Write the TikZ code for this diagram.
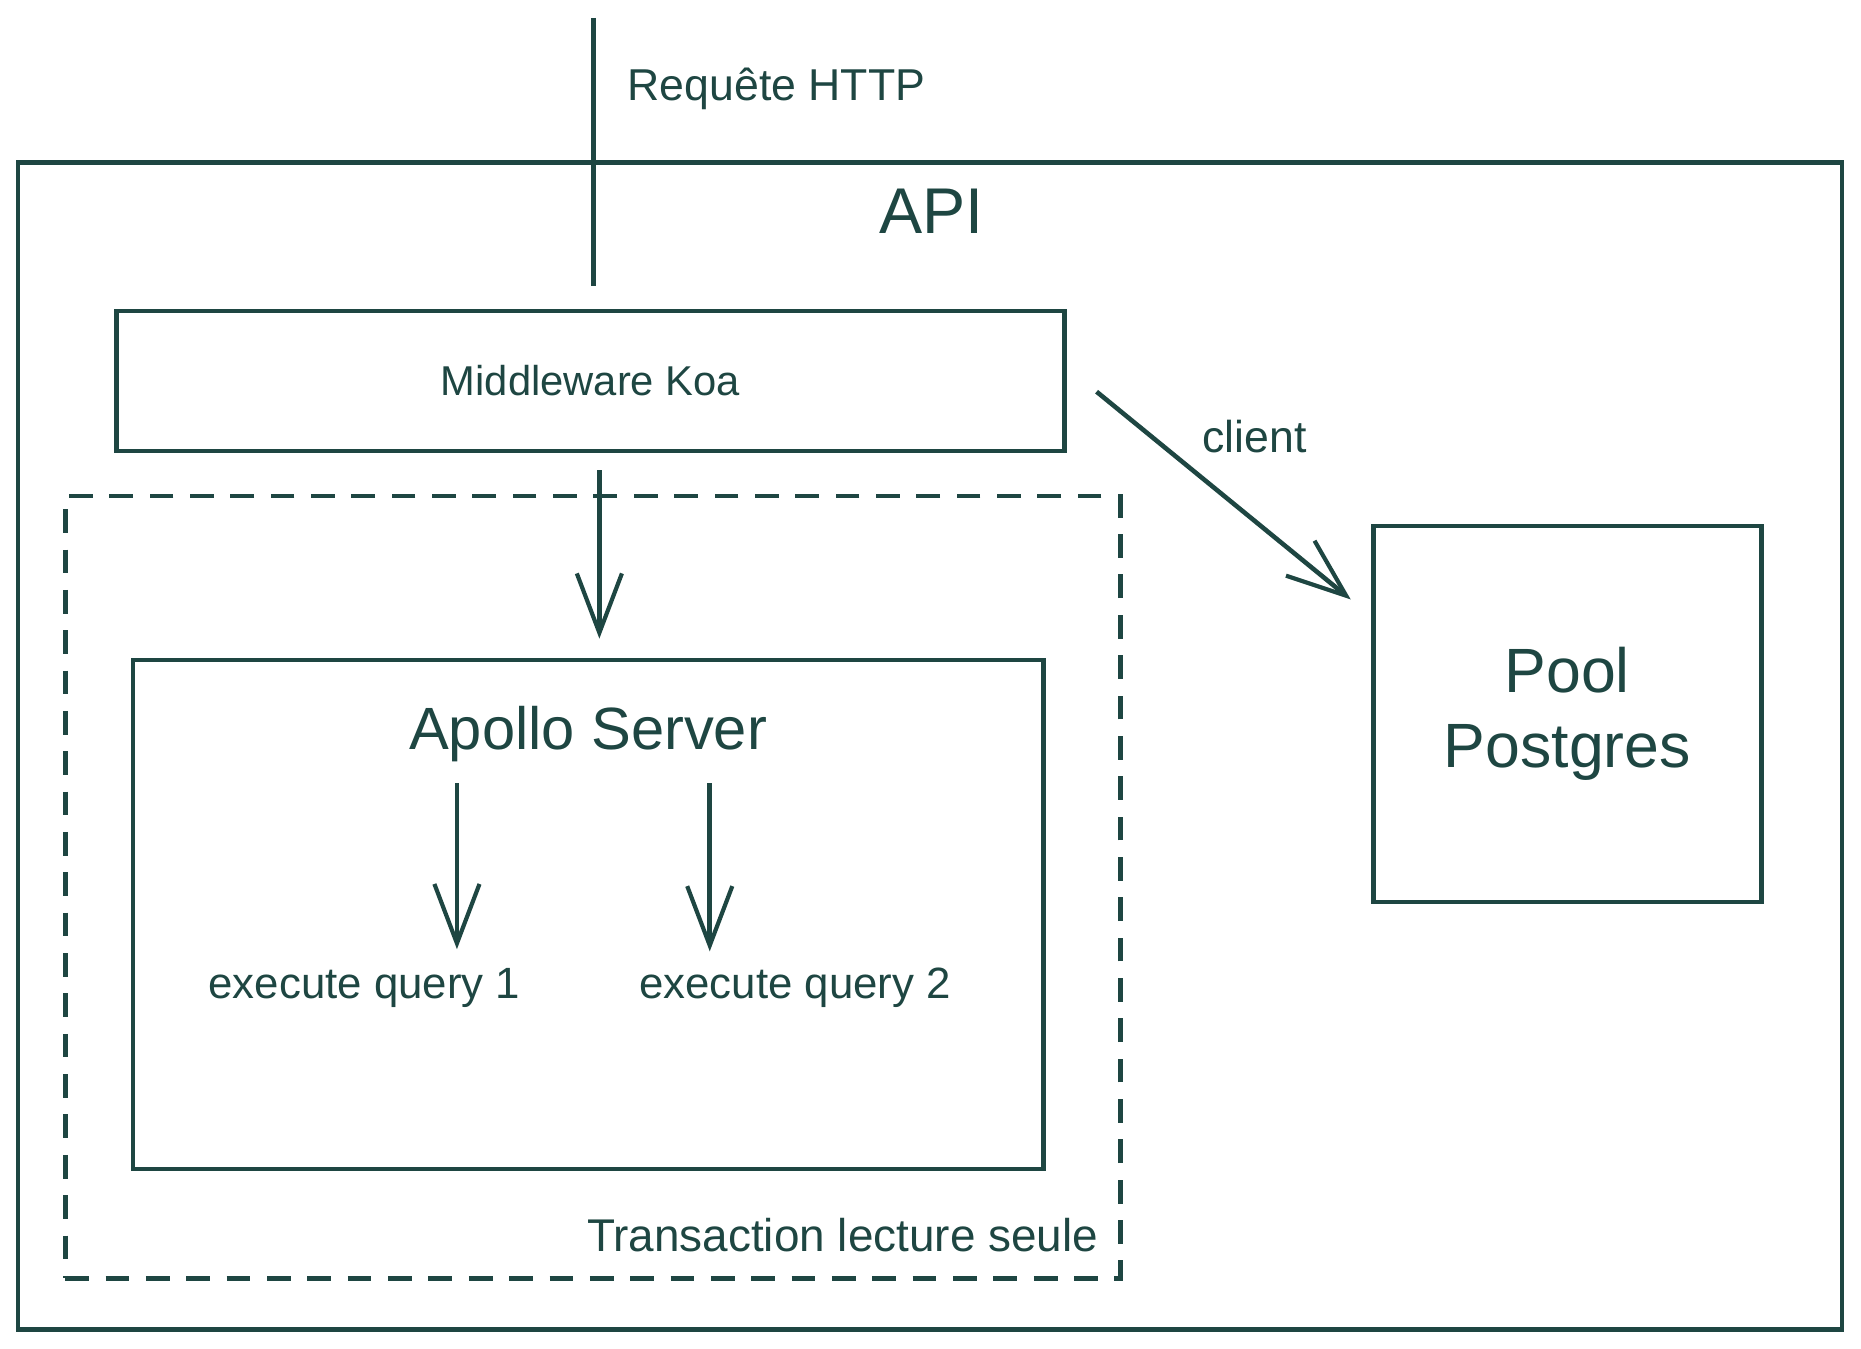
\documentclass[tikz,border=0pt]{standalone}
\usepackage{fontspec}
\setmainfont{Liberation Sans}
\usepackage{tikz}
\usetikzlibrary{arrows.meta, positioning, calc}
\definecolor{inkteal}{RGB}{30, 70, 66}

\begin{document}
\begin{tikzpicture}[
    draw=inkteal, text=inkteal, line width=1pt,
    box/.style={rectangle, draw=inkteal, line width=1.1pt, inner sep=0pt},
    lbl/.style={inner sep=0pt, font=\fontsize{10.7}{13}\selectfont},
    arrow/.style={-{Straight Barb[length=5mm, width=3.8mm, line width=1pt]}, line width=1.1pt}
]
\useasboundingbox (0,0) rectangle (15.68,-11.36);

% API container
\node[box, minimum width=15.37cm, minimum height=9.83cm] (api) at (7.835,-6.285) {};
\node[font=\fontsize{15.5}{18}\selectfont, inner sep=0pt] (apititle) at (7.85,-1.78) {API};

% Koa middleware
\node[box, minimum width=7.99cm, minimum height=1.18cm, font=\fontsize{10}{12}\selectfont] (koa) at (4.975,-3.21) {Middleware Koa};

% HTTP request
\coordinate (http) at (5.0,-0.15);
\draw[line width=1.1pt, shorten >=0.19cm] (http) -- (koa.north -| http);
\node[lbl, anchor=west] (req) at (5.27,-0.75) {Requête HTTP};

% Read-only transaction
\node[box, dash pattern=on 0.2cm off 0.14cm, minimum width=8.89cm, minimum height=6.59cm] (txn) at (4.995,-7.475) {};
\node[lbl, font=\fontsize{11}{13}\selectfont, above left=0.22cm and 0.19cm of txn.south east] (txnlabel) {Transaction lecture seule};

% Apollo server
\node[box, minimum width=7.67cm, minimum height=4.29cm] (apollo) at (4.955,-7.705) {};
\node[font=\fontsize{14.3}{17}\selectfont, inner sep=0pt, below=0.39cm of apollo.north] (apollotitle) {Apollo Server};
\coordinate (down) at (5.05,-3.96);
\draw[arrow, shorten >=0.16cm] (down) -- (down |- apollo.north);

% Queries
\node[lbl, font=\fontsize{10.5}{13}\selectfont] (q1) at (3.07,-8.32) {execute query 1};
\node[lbl, font=\fontsize{10.5}{13}\selectfont] (q2) at (6.70,-8.32) {execute query 2};
\coordinate (s1) at (3.85,-6.60);
\coordinate (s2) at (5.98,-6.60);
\draw[arrow, shorten >=0.14cm] (s1) -- (s1 |- q1.north);
\draw[arrow, shorten >=0.12cm] (s2) -- (s2 |- q2.north);

% Postgres pool
\node[box, minimum width=3.27cm, minimum height=3.17cm, align=center, font=\fontsize{15}{18}\selectfont] (pool) at (13.205,-6.015) {Pool\\Postgres};
\draw[arrow] ([shift={(0.25,-0.09)}]koa.east) -- node[lbl, xshift=0.26cm, yshift=0.5cm] (client) {client} ([shift={(-0.17,-0.64)}]pool.north west);
\end{tikzpicture}
\end{document}
